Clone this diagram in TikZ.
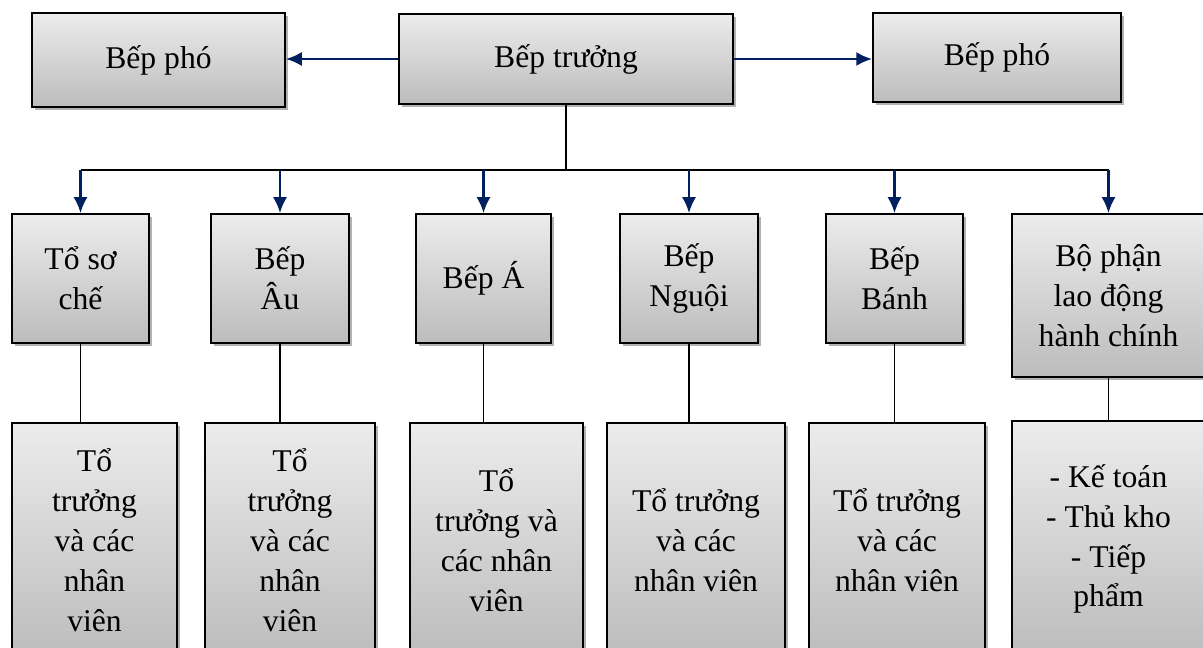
\documentclass[tikz,border=0pt]{standalone}
\usepackage{fontspec}
\setmainfont{Liberation Serif}
\usetikzlibrary{arrows.meta,shadows}
\definecolor{navy}{RGB}{0,32,96}
\definecolor{boxtop}{RGB}{236,236,236}
\definecolor{boxbot}{RGB}{188,188,188}
\begin{document}
\begin{tikzpicture}[x=0.02cm, y=-0.02cm, >={Latex[length=9pt,width=8pt]},
  box/.style={draw=black, line width=1.1pt, top color=boxtop, bottom color=boxbot,
    align=center, inner sep=0pt, font=\fontsize{18pt}{22.7pt}\selectfont,
    drop shadow={shadow xshift=1.5pt, shadow yshift=-1.5pt, opacity=.3, fill=black}},
  link/.style={line width=1.1pt},
  arr/.style={->, draw=navy, line width=1.3pt}]
\useasboundingbox (0,0) rectangle (1203,648);
\clip (0,0) rectangle (1203,648);
% top row
\node[box, minimum width=5.06cm, minimum height=1.88cm] (phoL) at (158.5,60) {Bếp phó};
\node[box, minimum width=6.68cm, minimum height=1.8cm] (truong) at (566,59) {Bếp trưởng};
\node[box, minimum width=4.96cm, minimum height=1.78cm] (phoR) at (997,57.5) {Bếp phó};
% middle row
\node[box, minimum width=2.74cm, minimum height=2.58cm] (soche) at (80.5,278.5) {Tổ sơ\\chế};
\node[box, minimum width=2.76cm, minimum height=2.58cm] (bepau) at (280,278.5) {Bếp\\Âu};
\node[box, minimum width=2.7cm, minimum height=2.58cm] (bepa) at (483.5,278.5) {Bếp Á};
\node[box, minimum width=2.76cm, minimum height=2.58cm] (nguoi) at (689,278.5) {Bếp\\Nguội};
\node[box, minimum width=2.74cm, minimum height=2.58cm] (banh) at (894.5,278.5) {Bếp\\Bánh};
\node[box, minimum width=3.86cm, minimum height=3.26cm] (hanhchinh) at (1108.5,295.5) {Bộ phận\\lao động\\hành chính};
% bottom row
\node[box, minimum width=3.3cm, minimum height=4.68cm] (nv1) at (94.5,540) {Tổ\\trưởng\\và các\\nhân\\viên};
\node[box, minimum width=3.4cm, minimum height=4.68cm] (nv2) at (290,540) {Tổ\\trưởng\\và các\\nhân\\viên};
\node[box, minimum width=3.46cm, minimum height=4.68cm] (nv3) at (496.5,540) {Tổ\\trưởng và\\các nhân\\viên};
\node[box, minimum width=3.56cm, minimum height=4.68cm] (nv4) at (696,540) {Tổ trưởng\\và các\\nhân viên};
\node[box, minimum width=3.52cm, minimum height=4.68cm] (nv5) at (897,540) {Tổ trưởng\\và các\\nhân viên};
\node[box, minimum width=3.86cm, minimum height=4.72cm] (nv6) at (1108.5,539) {- Kế toán\\- Thủ kho\\- Tiếp\\phẩm};
% connectors
\draw[arr] (truong.west) -- (truong.west -| phoL.east);
\draw[arr] (truong.east) -- (truong.east -| phoR.west);
\coordinate (bus) at (563,170);
\draw[link] (truong.south) -- (truong.south |- bus);
\draw[link] (soche.north |- bus) -- (hanhchinh.north |- bus);
\foreach \n in {soche,bepau,bepa,nguoi,banh,hanhchinh}
{
    \draw[arr] (\n.north |- bus) -- (\n.north);
}
\foreach \m/\b in {soche/nv1,bepau/nv2,bepa/nv3,nguoi/nv4,banh/nv5,hanhchinh/nv6}
{
    \draw[link] (\m.south) -- (\m.south |- \b.north);
}
\end{tikzpicture}
\end{document}
